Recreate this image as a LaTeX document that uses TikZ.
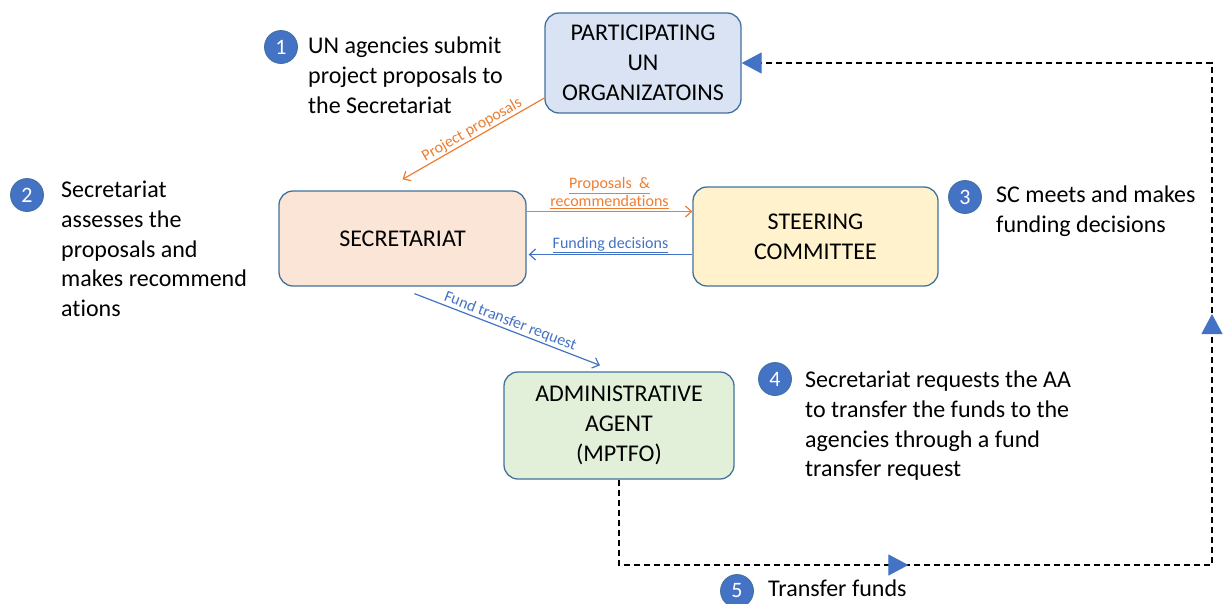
\documentclass[tikz,border=0pt]{standalone}
\usepackage{fontspec}
\setmainfont{Carlito}[Ligatures=NoCommon]
\usetikzlibrary{arrows.meta,decorations.markings,calc}
\definecolor{bdr}{HTML}{41719C}
\definecolor{numblue}{HTML}{4472C4}
\definecolor{org}{HTML}{ED7D31}
\definecolor{fblue}{HTML}{DAE3F3}
\definecolor{fpeach}{HTML}{FBE5D6}
\definecolor{fyellow}{HTML}{FFF2CC}
\definecolor{fgreen}{HTML}{E2F0D9}
\tikzset{
  box/.style={draw=bdr, line width=1.3pt, rounded corners=14pt, align=center,
    font=\fontsize{24}{30}\selectfont, inner sep=0pt},
  num/.style={circle, fill=numblue, draw=bdr, line width=0.8pt, minimum size=33pt,
    inner sep=0pt, text=white, font=\fontsize{22}{24}\selectfont},
  note/.style={anchor=north west, align=left, inner sep=0pt, font=\fontsize{24}{29.7}\selectfont},
  lbl/.style={font=\fontsize{16}{18}\selectfont, inner sep=1pt},
  oarrow/.style={draw=org, line width=1.2pt, -{Straight Barb[length=6pt,width=11pt]}},
  barrow/.style={draw=numblue, line width=1.2pt, -{Straight Barb[length=6pt,width=11pt]}},
}
\begin{document}
\begin{tikzpicture}[x=1pt,y=-1pt]
\useasboundingbox (0,0) rectangle (1224,603);

% boxes
\node[box, fill=fblue, minimum width=196pt, minimum height=100pt] (puo) at (643,63) {PARTICIPATING\\UN\\ORGANIZATOINS};
\node[box, fill=fpeach, minimum width=247pt, minimum height=95pt] (sec) at (402.5,238.5) {SECRETARIAT};
\node[box, fill=fyellow, minimum width=245pt, minimum height=99pt] (sc) at (815.5,236.5) {STEERING\\COMMITTEE};
\node[box, fill=fgreen, minimum width=230pt, minimum height=107pt] (aa) at (619,425.5) {ADMINISTRATIVE\\AGENT\\(MPTFO)};

% numbered notes
\node[num] (n1) at (281,47) {1};
\node[note] (t1) at (308,37) {UN agencies submit\\project proposals to\\the Secretariat};
\node[num] (n2) at (27,195) {2};
\node[note] (t2) at (61,181) {Secretariat\\assesses the\\proposals and\\makes recommend\\ations};
\node[num] (n3) at (965,197) {3};
\node[note] (t3) at (996,186) {SC meets and makes\\funding decisions};
\node[num] (n4) at (775,379) {4};
\node[note] (t4) at (805,371) {Secretariat requests the AA\\to transfer the funds to the\\agencies through a fund\\transfer request};
\node[num] (n5) at (737,591) {5};
\node[note] (t5) at (768,580) {Transfer funds};

% connectors
\draw[oarrow] ([yshift=-35pt]puo.west) -- ([yshift=11pt]sec.north)
  node[lbl, pos=0.48, sloped, above, text=org] {Project proposals};
\draw[oarrow] ([yshift=27pt]sec.east) -- ([yshift=25pt]sc.west)
  node[lbl, midway, above=1pt, text=org, align=center] {\underline{Proposals\ \ \&}\\\underline{recommendations}};
\draw[barrow] ([yshift=-18pt]sc.west) -- ([xshift=2pt,yshift=-16pt]sec.east)
  node[lbl, midway, above=0pt, text=numblue] {\underline{Funding decisions}};
\draw[barrow] ([xshift=12pt,yshift=-7pt]sec.south) -- ([xshift=-19pt,yshift=6pt]aa.north)
  node[lbl, pos=0.5, sloped, above=0pt, text=numblue] {Fund transfer request};

\coordinate (c1) at (1212,565);
\draw[line width=1.2pt, dash pattern=on 6pt off 4pt, -{Triangle[length=20pt,width=21pt,color=numblue,fill=numblue]},
  postaction={decorate},
  decoration={markings,
    mark=at position 0.227 with {\arrow{Triangle[length=20pt,width=21pt,color=numblue,fill=numblue]}},
    mark=at position 0.563 with {\arrow{Triangle[length=20pt,width=21pt,color=numblue,fill=numblue]}}}]
  (aa.south) |- (c1) |- (puo.east);
\end{tikzpicture}
\end{document}
